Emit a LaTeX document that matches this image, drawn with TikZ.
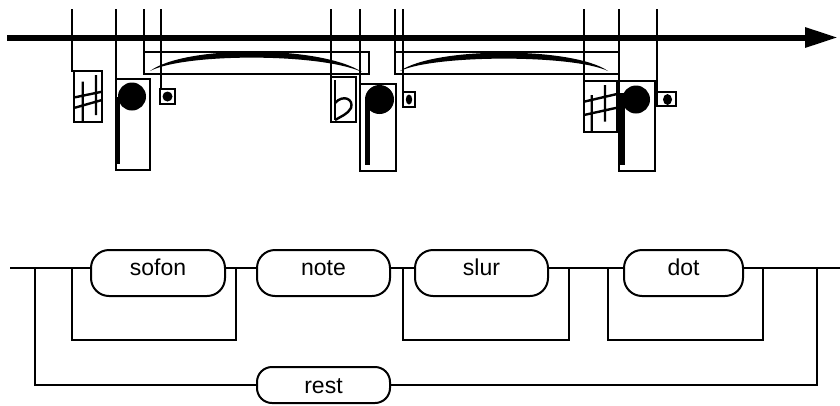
\documentclass[tikz,border=0pt]{standalone}
\usepackage{fontspec}
\setmainfont{Liberation Sans}
\usetikzlibrary{arrows.meta}
\begin{document}
\begin{tikzpicture}[x=1pt,y=-1pt,
  thinline/.style={line width=1.6pt},
  sharpline/.style={line width=2.4pt},
  stemline/.style={line width=4.5pt},
  rail/.style={line width=2pt},
  term/.style={draw, line width=2pt, rounded corners=18pt, inner xsep=0pt, inner ysep=0pt,
    text height=25pt, text depth=21pt, font=\fontsize{23}{27}\selectfont, anchor=base},
  restterm/.style={term, rounded corners=15pt, text height=26pt, text depth=10pt}]
\useasboundingbox (0,0) rectangle (840,405);

% ---------- time axis ----------
\coordinate (axl) at (7,37.5);
\coordinate (axr) at (838,37.5);
\draw[line width=6pt, -{Triangle[length=33pt,width=19pt]}] (axl) -- (axr);

% ---------- group 1 ----------
\draw[thinline] (72,9) -- (72,71) -- (74,71);
\draw[thinline] (74,71) rectangle (102,122);
\draw[sharpline] (82.7,81.7) -- (82.7,122) (96,75) -- (96,115)
  (75,97.3) -- (102,91.7) (75,107.7) -- (102,100);
\draw[thinline] (116,9) -- (116,79);
\draw[thinline] (116,79) rectangle (150,170);
\fill (132,96.5) circle (14);
\draw[stemline] (117.5,97) -- (117.5,164);
\draw[thinline] (144,9) -- (144,52);
\draw[thinline] (144,52) rectangle (369,74);
\fill (150,71) .. controls (185,45) and (320,45) .. (362,72)
  .. controls (320,53) and (185,53) .. cycle;
\draw[thinline] (161,9) -- (161,89);
\draw[thinline] (160,89) rectangle (175,104);
\fill (167.5,96.5) circle (5);

% ---------- group 2 ----------
\draw[thinline] (331,9) -- (331,77);
\draw[thinline] (331,77) rectangle (356,122);
\draw[sharpline] (335,80) -- (335,120);
\draw[sharpline] (335,103) .. controls (343,94) and (354,99) .. (351,108)
  .. controls (348,114) and (340,117) .. (335,120);
\draw[thinline] (360,9) -- (360,84);
\draw[thinline] (360,84) rectangle (396,171);
\fill (379.5,99.5) circle (14.5);
\draw[line width=5pt] (367.5,99) -- (367.5,165);
\draw[thinline] (395,9) -- (395,52);
\draw[thinline] (395,52) rectangle (619,74);
\fill (400,71) .. controls (435,46.5) and (573,46.5) .. (608,71)
  .. controls (573,54.5) and (435,54.5) .. cycle;
\draw[thinline] (403,9) -- (403,92);
\draw[thinline] (403,92) rectangle (415,107);
\fill (409,99.5) ellipse [x radius=3.2, y radius=5];

% ---------- group 3 ----------
\draw[thinline] (584,9) -- (584,81);
\draw[thinline] (584,81) rectangle (617,132);
\draw[sharpline] (591.7,95) -- (591.7,132) (605,85) -- (605,121.7)
  (584,101.7) -- (617,94) (584,115) -- (617,107.7);
\draw[thinline] (619,9) -- (619,81);
\draw[thinline] (619,81) rectangle (655,171);
\fill (636,99.5) circle (14);
\draw[line width=5pt] (622.5,93) -- (622.5,165);
\draw[thinline] (657,9) -- (657,92);
\draw[thinline] (657,92) rectangle (676,106);
\fill (667.5,99.5) ellipse [x radius=4.5, y radius=5.5];

% ---------- railroad diagram ----------
\node[term, minimum width=134pt] (sofon) at (158,275) {sofon};
\node[term, minimum width=133pt] (note) at (323.5,275) {note};
\node[term, minimum width=133pt] (slur) at (481.5,275) {slur};
\node[term, minimum width=119pt] (dot) at (683.5,275) {dot};
\node[restterm, minimum width=133pt] (rest) at (323.5,393) {rest};

\coordinate (start) at (10,268);
\coordinate (finish) at (840,268);
\draw[rail] (start) -- (sofon.west |- start);
\draw[rail] (sofon.east |- start) -- (note.west |- start);
\draw[rail] (note.east |- start) -- (slur.west |- start);
\draw[rail] (slur.east |- start) -- (dot.west |- start);
\draw[rail] (dot.east |- start) -- (finish);

\coordinate (s1) at (72,268);  \coordinate (s2) at (236,268);
\coordinate (l1) at (403,268); \coordinate (l2) at (569,268);
\coordinate (d1) at (608,268); \coordinate (d2) at (763,268);
\coordinate (r1) at (35,268);  \coordinate (r2) at (817,268);
\draw[rail] (s1) -- (72,340) -- (236,340) -- (s2);
\draw[rail] (l1) -- (403,340) -- (569,340) -- (l2);
\draw[rail] (d1) -- (608,340) -- (763,340) -- (d2);
\draw[rail] (r1) |- (rest.west);
\draw[rail] (rest.east) -| (r2);
\end{tikzpicture}
\end{document}
